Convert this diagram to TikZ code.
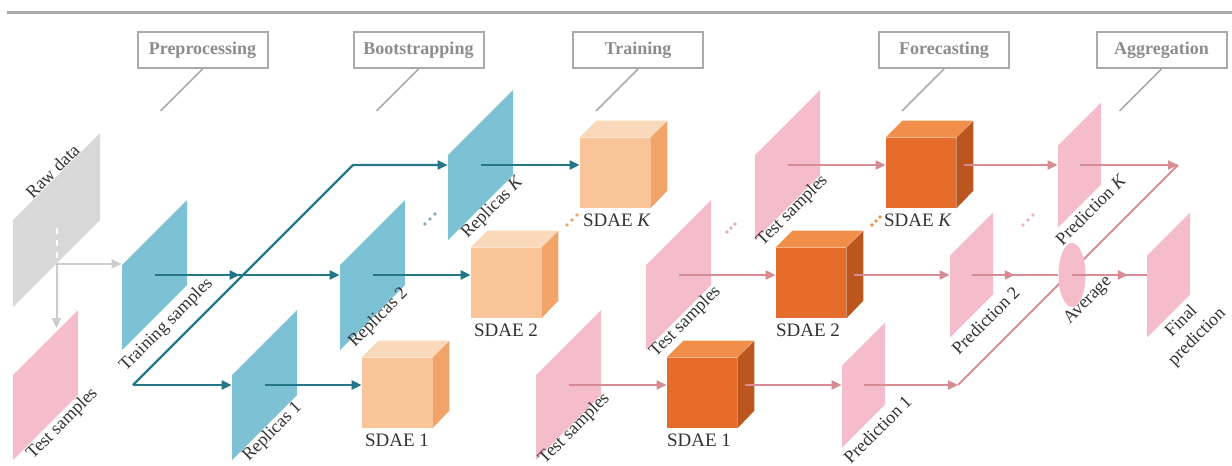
\documentclass[tikz,border=0pt]{standalone}
\usepackage{fontspec}
\setmainfont{Liberation Serif}
\usetikzlibrary{arrows.meta,calc,shapes.geometric,decorations.markings}

\definecolor{planeblue}{RGB}{124,194,212}
\definecolor{arrowblue}{RGB}{38,118,138}
\definecolor{planepink}{RGB}{245,188,203}
\definecolor{arrowpink}{RGB}{214,140,146}
\definecolor{planegray}{RGB}{216,216,216}
\definecolor{arrowgray}{RGB}{205,205,205}
\definecolor{boxgray}{RGB}{170,170,170}
\definecolor{stagetxt}{RGB}{140,140,140}
\definecolor{txtgray}{RGB}{50,50,50}
\definecolor{lfront}{RGB}{248,196,152}
\definecolor{ltop}{RGB}{250,216,186}
\definecolor{lside}{RGB}{242,164,104}
\definecolor{dfront}{RGB}{230,108,44}
\definecolor{dtop}{RGB}{240,142,74}
\definecolor{dside}{RGB}{186,86,30}

\tikzset{
  plane/.style={minimum width=32.5pt, minimum height=42.5pt, inner sep=0pt, yslant=1},
  pred/.style={plane, fill=planepink, minimum width=21.5pt, minimum height=41pt},
  lcube/.style={minimum size=35pt, inner sep=0pt, fill=lfront},
  dcube/.style={minimum size=35pt, inner sep=0pt, fill=dfront},
  stage/.style={draw=boxgray, line width=1pt, minimum width=65pt, minimum height=18pt,
    font=\bfseries\fontsize{9}{10}\selectfont, text=stagetxt},
  leader/.style={boxgray, line width=0.8pt},
  lbl/.style={rotate=45, font=\fontsize{9}{11}\selectfont, text=txtgray, inner sep=0pt},
  cubelbl/.style={font=\fontsize{9.5}{10}\selectfont, text=txtgray, inner sep=0pt},
  tip/.style={-{Triangle[length=5pt,width=4.5pt]}},
  barr/.style={arrowblue, line width=1.2pt, tip},
  parr/.style={arrowpink, line width=1pt, tip},
  garr/.style={arrowgray, line width=1pt, tip},
  midtip/.style={postaction={decorate}, decoration={markings,
    mark=at position #1 with {\arrow{Triangle[length=5pt,width=4.5pt]}}}},
}

% top and side faces of a cube whose front face is node #1
\newcommand\cubefaces[3]{%
  \fill[#2] (#1.north west) -- ++(17,-17) -- ++(70,0) -- (#1.north east) -- cycle;
  \fill[#3] (#1.north east) -- ++(17,-17) -- ++(0,70) -- (#1.south east) -- cycle;}

\begin{document}
\begin{tikzpicture}[x=0.5pt,y=-0.5pt]
\useasboundingbox (0,0) rectangle (1232,466);
\draw[line width=1.5pt, boxgray] (7,12) -- (1232,12);

% stages
\node[stage] (pre) at (202.5,50) {Preprocessing};
\node[stage] (boot) at (418.5,50) {Bootstrapping};
\node[stage] (train) at (638,50) {Training};
\node[stage] (fore) at (944,50) {Forecasting};
\node[stage] (aggr) at (1161.5,50) {Aggregation};
\foreach \s in {pre,boot,train,fore,aggr}
  \draw[leader] (\s.south) -- ++(-42,42);

% data planes
\node[plane, fill=planegray, minimum width=43.5pt, minimum height=43.5pt] (raw) at (56.5,220) {};
\node[plane, fill=planepink] (testL) at (45.5,385) {};
\node[plane, fill=planeblue] (trainS) at (154.5,275) {};
\node[plane, fill=planeblue] (rep1) at (264.5,385) {};
\node[plane, fill=planeblue] (rep2) at (372.5,275) {};
\node[plane, fill=planeblue] (repK) at (480.5,165) {};
\node[plane, fill=planepink] (test1) at (568.5,385) {};
\node[plane, fill=planepink] (test2) at (678.5,275) {};
\node[plane, fill=planepink] (testK) at (787.5,165) {};
\node[pred] (pred1) at (863.5,385) {};
\node[pred] (pred2) at (971.5,275) {};
\node[pred] (predK) at (1079.5,165) {};
\node[pred] (final) at (1168.5,275) {};
\draw[white, dashed, line width=1pt] ($(raw.center)+(0,8)$) -- (raw.south);

% SDAE cubes
\node[lcube] (lc1) at (397,393) {};
\node[lcube] (lc2) at (506,283) {};
\node[lcube] (lcK) at (615,173) {};
\node[dcube] (dc1) at (702,393) {};
\node[dcube] (dc2) at (811,283) {};
\node[dcube] (dcK) at (921,173) {};
\cubefaces{lc1}{ltop}{lside}
\cubefaces{lc2}{ltop}{lside}
\cubefaces{lcK}{ltop}{lside}
\cubefaces{dc1}{dtop}{dside}
\cubefaces{dc2}{dtop}{dside}
\cubefaces{dcK}{dtop}{dside}
\node[cubelbl] (l-lc1) at ($(lc1.south)+(0,12)$) {SDAE 1};
\node[cubelbl] (l-lc2) at ($(lc2.south)+(0,12)$) {SDAE 2};
\node[cubelbl] (l-lcK) at ($(lcK.south)+(2,12)$) {SDAE \textit{K}};
\node[cubelbl] (l-dc1) at ($(dc1.south)+(-3,12)$) {SDAE 1};
\node[cubelbl] (l-dc2) at ($(dc2.south)+(-3,12)$) {SDAE 2};
\node[cubelbl] (l-dcK) at ($(dcK.south)+(-3,12)$) {SDAE \textit{K}};

% plane labels
\node[lbl] (l-raw) at ($(raw.north)+(-4,-5)$) {Raw data};
\node[lbl] (l-testL) at ($(testL.south)+(17,-4)$) {Test samples};
\node[lbl] (l-trainS) at ($(trainS.south)+(12,7)$) {Training samples};
\node[lbl] (l-rep1) at ($(rep1.south)+(8,4)$) {Replicas 1};
\node[lbl] (l-rep2) at ($(rep2.south)+(6,0)$) {Replicas 2};
\node[lbl] (l-repK) at ($(repK.south)+(12,0)$) {Replicas \textit{K}};
\node[lbl] (l-test1) at ($(test1.south)+(6,1)$) {Test samples};
\node[lbl] (l-test2) at ($(test2.south)+(7,4)$) {Test samples};
\node[lbl] (l-testK) at ($(testK.south)+(5,3)$) {Test samples};
\node[lbl] (l-pred1) at ($(pred1.south)+(14,3)$) {Prediction 1};
\node[lbl] (l-pred2) at ($(pred2.south)+(14,4)$) {Prediction 2};
\node[lbl] (l-predK) at ($(predK.south)+(11,3)$) {Prediction \textit{K}};
\node[lbl, align=center] (l-final) at ($(final.south)+(21,13)$) {Final\\prediction};

% raw data split
\draw[garr] (raw.south) -- (raw.south -| trainS.west);
\draw[garr] (raw.south) -- ($(raw.south |- testL.north)+(0,-14)$);

% bootstrapping
\coordinate (split) at (133,385);
\coordinate (bend) at (353,165);
\draw[barr] (split) -- (bend) -- (repK.center -| repK.west);
\draw[barr] (split) -- (rep1.center -| rep1.west);
\draw[barr, midtip=0.46] (trainS.center) -- (trainS.center -| rep2.west);
\draw[barr] (rep1.center) -- (rep1.center -| lc1.west);
\draw[barr] (rep2.center) -- (rep2.center -| lc2.west);
\draw[barr] (repK.center) -- (repK.center -| lcK.west);

% forecasting
\draw[parr] (test1.center) -- (test1.center -| dc1.west);
\draw[parr] (test2.center) -- (test2.center -| dc2.west);
\draw[parr] (testK.center) -- (testK.center -| dcK.west);
\draw[parr, shorten <=4pt] (dc1.east |- test1.center) -- (test1.center -| pred1.west);
\draw[parr, shorten <=4pt] (dc2.east |- test2.center) -- (test2.center -| pred2.west);
\draw[parr, shorten <=4pt] (dcK.east |- testK.center) -- (testK.center -| predK.west);

% aggregation
\coordinate (join) at (958,385);
\coordinate (top) at (1178,165);
\draw[parr] (pred1.center) -- (join);
\draw[arrowpink, line width=1pt] (join) -- (top);
\draw[parr] (predK.center) -- (top);
\node[ellipse, fill=planepink, minimum width=13.5pt, minimum height=32pt, inner sep=0pt] (avg) at (1072,275) {};
\draw[arrowpink, line width=1pt, midtip=0.5] (pred2.center) -- (avg.west);
\draw[arrowpink, line width=1pt, midtip=0.75] (avg.center) -- (avg.center -| final.west);
\node[lbl] (l-avg) at ($(avg.south)+(16,-7)$) {Average};

% dots
\foreach \i in {0,1,2} {
  \fill[arrowblue!60] (425+5*\i,224-5*\i) circle (0.9pt);
  \fill[lside] (567+5*\i,225-5*\i) circle (0.9pt);
  \fill[arrowpink!70] (727+4*\i,232-4*\i) circle (0.9pt);
  \fill[dtop] (872+4*\i,225-4*\i) circle (0.9pt);
  \fill[arrowpink!60] (1023+5*\i,225-5*\i) circle (0.9pt);
}
\end{tikzpicture}
\end{document}
